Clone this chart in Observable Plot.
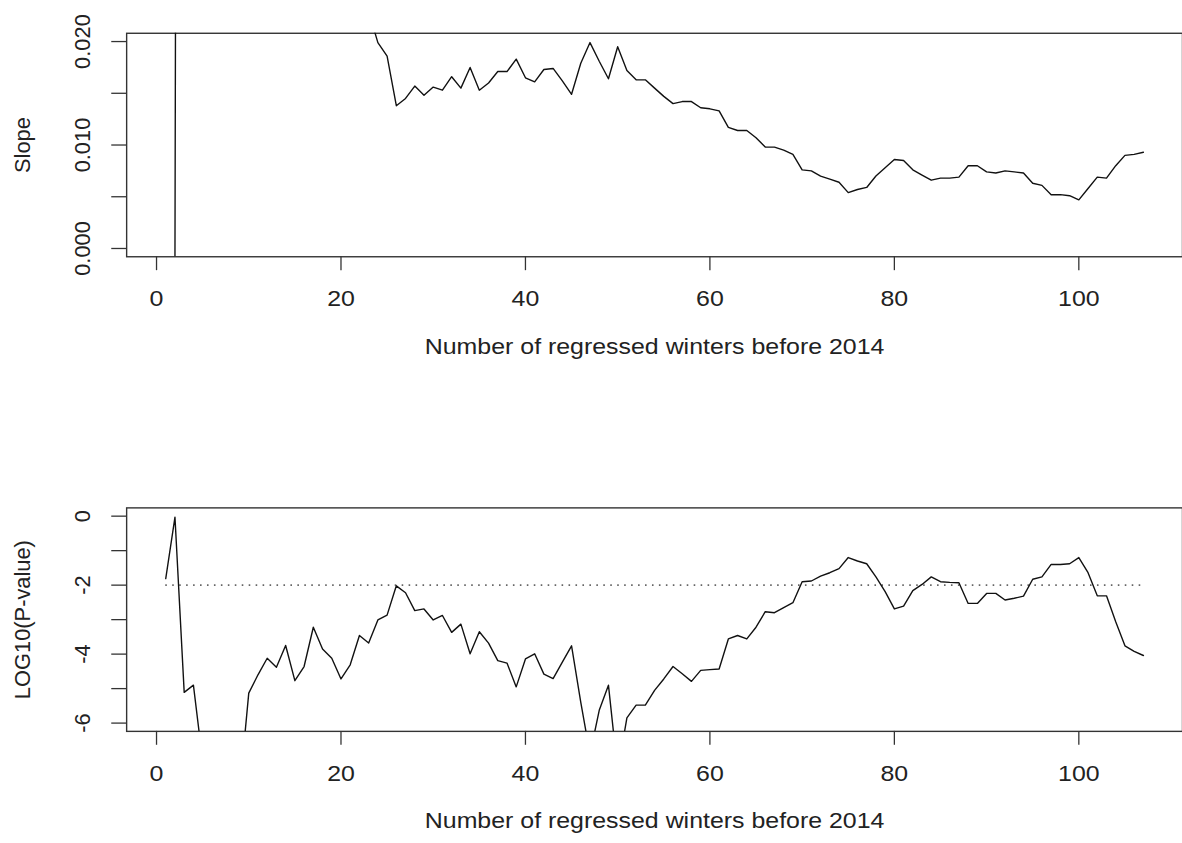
<!DOCTYPE html>
<html>
<head>
<meta charset="utf-8">
<script src="https://cdn.jsdelivr.net/npm/d3@7"></script>
<script src="https://cdn.jsdelivr.net/npm/@observablehq/plot@0.6"></script>
<style>
  html, body { margin: 0; padding: 0; background: #fff; overflow: hidden; }
  #wrap { width: 1182px; height: 843px; overflow: hidden; }
  #wrap > div, #wrap > svg { display: block; }
</style>
</head>
<body>
<div id="wrap"></div>
<script>
// ---- data ----
const winters = d3.range(1, 108); // number of regressed winters before 2014

const slope = [
  -0.9, 0.0, 0.4, 0.2, 0.12, 0.09, 0.07, 0.06, 0.05, 0.045,
  0.04, 0.037, 0.034, 0.032, 0.03, 0.028, 0.027, 0.026, 0.025, 0.0245,
  0.0242, 0.024, 0.0229, 0.0199, 0.0186, 0.0138, 0.0145, 0.0157, 0.0148, 0.0156,
  0.0153, 0.0166, 0.0155, 0.0175, 0.0153, 0.0160, 0.0171, 0.0171, 0.0183, 0.0165,
  0.0161, 0.0173, 0.0174, 0.0162, 0.0149, 0.0179, 0.0199, 0.0181, 0.0164, 0.0195,
  0.0172, 0.0163, 0.0163, 0.0155, 0.0147, 0.0140, 0.0142, 0.0142, 0.0136, 0.0135,
  0.0133, 0.0117, 0.0114, 0.0114, 0.0107, 0.0098, 0.0098, 0.0095, 0.0091, 0.0076,
  0.0075, 0.0070, 0.0067, 0.0064, 0.0054, 0.0057, 0.0059, 0.0070, 0.0078, 0.0086,
  0.0085, 0.0076, 0.0071, 0.0066, 0.0068, 0.0068, 0.0069, 0.0080, 0.0080, 0.0074,
  0.0073, 0.0075, 0.0074, 0.0073, 0.0063, 0.0061, 0.0052, 0.0052, 0.0051, 0.0047,
  0.0058, 0.0069, 0.0068, 0.0080, 0.0090, 0.0091, 0.0093
];

const logP = [
  -1.81, -0.03, -5.11, -4.90, -7.1, -7.6, -7.9, -8.2, -8.0, -5.13,
  -4.60, -4.12, -4.38, -3.75, -4.77, -4.36, -3.22, -3.85, -4.12, -4.72,
  -4.31, -3.46, -3.68, -3.01, -2.87, -2.02, -2.22, -2.74, -2.69, -3.01,
  -2.88, -3.37, -3.13, -3.99, -3.35, -3.68, -4.19, -4.26, -4.95, -4.14,
  -3.99, -4.58, -4.71, -4.23, -3.76, -5.40, -6.9, -5.63, -4.90, -7.4,
  -5.85, -5.48, -5.48, -5.05, -4.72, -4.36, -4.57, -4.79, -4.47, -4.45,
  -4.43, -3.56, -3.46, -3.56, -3.22, -2.77, -2.80, -2.65, -2.51, -1.90,
  -1.88, -1.74, -1.64, -1.52, -1.20, -1.30, -1.38, -1.76, -2.19, -2.69,
  -2.61, -2.16, -1.98, -1.76, -1.90, -1.92, -1.93, -2.53, -2.53, -2.24,
  -2.24, -2.43, -2.38, -2.32, -1.83, -1.76, -1.40, -1.40, -1.38, -1.20,
  -1.64, -2.31, -2.31, -3.06, -3.76, -3.92, -4.04
];

const threshold = -2;

const xTicks = [0, 20, 40, 60, 80, 100];
const slopeTicks = [0, 0.005, 0.010, 0.015, 0.020];
const slopeLabelValues = [0, 0.010, 0.020];
const slopeLabelText = ["0.000", "0.010", "0.020"];
const pTicks = [-6, -5, -4, -3, -2, -1, 0];
const pLabelValues = [-6, -4, -2, 0];
const pLabelText = ["-6", "-4", "-2", "0"];

const xTitle = "Number of regressed winters before 2014";
const slopeTitle = "Slope";
const pTitle = "LOG10(P-value)";

// ---- drawing ----
const FONT = "'Liberation Sans', Arial, Helvetica, sans-serif";
const FS = 22;
const xDomain = [-3.24, 111.24];
const frameColor = "#333";

function panel({height, marginTop, marginBottom, yDomain, yTicks, yLabVals, yLabText, yTitle, values, extra}) {
  return Plot.plot({
    width: 1190,
    height,
    marginLeft: 127,
    marginRight: 0,
    marginTop,
    marginBottom,
    style: {fontFamily: FONT, fontSize: FS + "px", color: "#222", background: "#fff", overflow: "visible"},
    x: {domain: xDomain},
    y: {domain: yDomain},
    marks: [
      Plot.frame({stroke: frameColor, strokeWidth: 1.4}),
      Plot.axisX({ticks: xTicks, tickSize: 14, tickPadding: 20, fontSize: FS, label: null, stroke: frameColor, strokeWidth: 1.3, fill: "#222"}),
      Plot.axisY({ticks: yTicks, tickSize: 15, tickFormat: () => "", label: null, stroke: frameColor, strokeWidth: 1.3}),
      Plot.text(yLabVals, {y: d => d, text: (d, i) => yLabText[i], frameAnchor: "left", textAnchor: "middle", lineAnchor: "middle", dx: -43.5, rotate: -90, fontSize: FS, fill: "#222"}),
      Plot.text([yTitle], {text: d => d, frameAnchor: "left", textAnchor: "middle", lineAnchor: "middle", dx: -104, rotate: -90, fontSize: FS, fill: "#222"}),
      Plot.text([xTitle], {text: d => d, frameAnchor: "bottom", textAnchor: "middle", dy: 97.4, fontSize: FS, fill: "#222"}),
      ...(extra || []),
      Plot.line(winters, {x: d => d, y: (d, i) => values[i], clip: true, stroke: "#111", strokeWidth: 1.4})
    ]
  });
}

const topPanel = panel({
  height: 420, marginTop: 33, marginBottom: 162,
  yDomain: [-0.0008, 0.0208], yTicks: slopeTicks,
  yLabVals: slopeLabelValues, yLabText: slopeLabelText,
  yTitle: slopeTitle, values: slope
});

const bottomPanel = panel({
  height: 423, marginTop: 91, marginBottom: 107,
  yDomain: [-6.24, 0.24], yTicks: pTicks,
  yLabVals: pLabelValues, yLabText: pLabelText,
  yTitle: pTitle, values: logP,
  extra: [Plot.ruleY([threshold], {x1: winters[0], x2: winters[winters.length - 1], stroke: "#666", strokeWidth: 1.6, strokeDasharray: "1.6,5.4"})]
});

const wrap = document.getElementById("wrap");
wrap.appendChild(topPanel);
wrap.appendChild(bottomPanel);

// horizontally stretch non-rotated text to mimic the reference's aspect
wrap.querySelectorAll("text").forEach(t => {
  const tr = t.getAttribute("transform") || "";
  const parentTr = (t.parentNode && t.parentNode.getAttribute && t.parentNode.getAttribute("transform")) || "";
  if (/rotate/.test(tr) || /rotate/.test(parentTr)) return;
  const w = t.getComputedTextLength();
  if (w > 0) {
    t.setAttribute("textLength", (w * 1.14).toFixed(1));
    t.setAttribute("lengthAdjust", "spacingAndGlyphs");
  }
});
</script>
</body>
</html>
